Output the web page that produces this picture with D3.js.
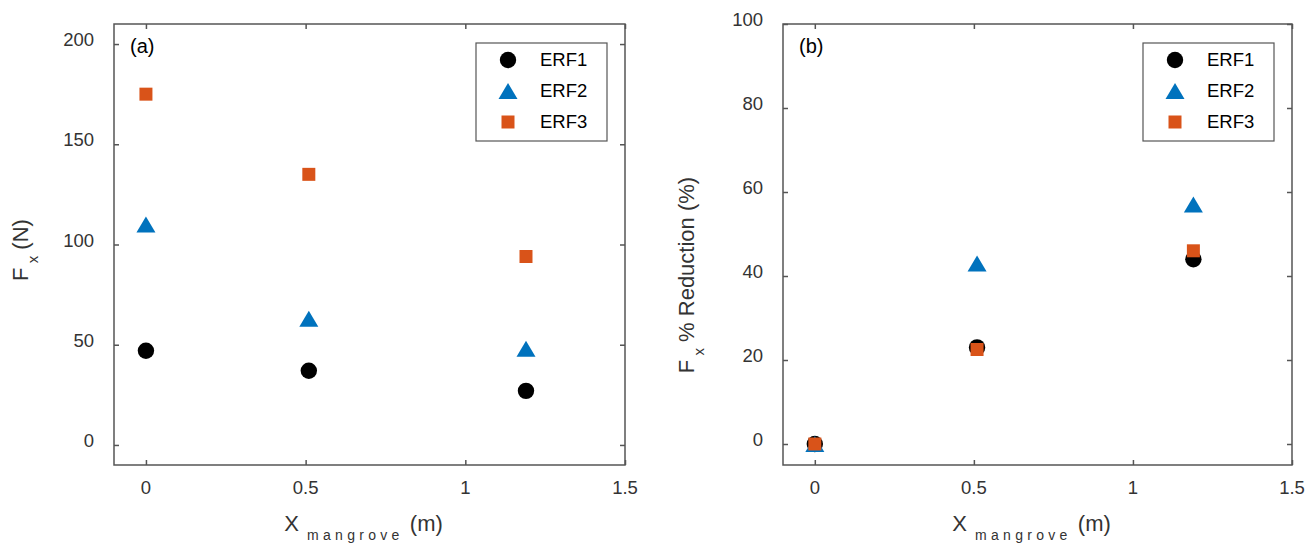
<!DOCTYPE html>
<html>
<head>
<meta charset="utf-8">
<script src="https://cdn.jsdelivr.net/npm/d3@7"></script>
<style>
  body { margin: 0; background: #fff; }
  text { font-family: "Liberation Sans", Arial, Helvetica, sans-serif; fill: #333; }
</style>
</head>
<body>
<svg id="chart" width="1312" height="547"></svg>
<script>
// data
const xMangrove = [0, 0.51, 1.19];
const seriesNames = ["ERF1", "ERF2", "ERF3"];
const forceERF1 = [47, 37, 27];
const forceERF2 = [110, 63, 48];
const forceERF3 = [175, 135, 94];
const reductionERF1 = [0, 23, 44];
const reductionERF2 = [0, 43, 57];
const reductionERF3 = [0, 22.5, 46];
const xTicks = [0, 0.5, 1, 1.5];
const forceTicks = [0, 50, 100, 150, 200];
const reductionTicks = [0, 20, 40, 60, 80, 100];

const COLORS = ["#000000", "#0072BD", "#D95319"];
const SHAPES = ["circle", "triangle", "square"];
const AXIS_COLOR = "#555";
const TICK_LEN = 5;

function markerPath(shape) {
    if (shape === "circle") return d3.symbol(d3.symbolCircle, Math.PI * 8.2 * 8.2)();
    if (shape === "square") return "M-6.5,-6.5H6.5V6.5H-6.5Z";
    // triangle centred on its bounding box
    return "M0,-8L9.5,8H-9.5Z";
}

function drawPanel(svg, opts) {
    const x = d3.scaleLinear().domain([-0.1, 1.5]).range([opts.left, opts.right]);
    const y = d3.scaleLinear().domain(opts.yDomain).range([465, 24]);
    const g = svg.append("g");

    // frame
    g.append("rect")
        .attr("x", opts.left).attr("y", 24)
        .attr("width", opts.right - opts.left).attr("height", 441)
        .attr("fill", "none").attr("stroke", AXIS_COLOR).attr("stroke-width", 1.5);

    // inward ticks on all four sides
    const fmt = d => String(d);
    g.append("g").attr("transform", `translate(0,465)`)
        .call(d3.axisBottom(x).tickValues(xTicks).tickSizeInner(-TICK_LEN).tickSizeOuter(0).tickFormat(""));
    g.append("g").attr("transform", `translate(0,24)`)
        .call(d3.axisTop(x).tickValues(xTicks).tickSizeInner(-TICK_LEN).tickSizeOuter(0).tickFormat(""));
    g.append("g").attr("transform", `translate(${opts.left},0)`)
        .call(d3.axisLeft(y).tickValues(opts.yTicks).tickSizeInner(-TICK_LEN).tickSizeOuter(0).tickFormat(""));
    g.append("g").attr("transform", `translate(${opts.right},0)`)
        .call(d3.axisRight(y).tickValues(opts.yTicks).tickSizeInner(-TICK_LEN).tickSizeOuter(0).tickFormat(""));
    g.selectAll(".domain").remove();
    g.selectAll(".tick line").attr("stroke", AXIS_COLOR).attr("stroke-width", 1.5);

    // tick labels
    g.append("g").selectAll("text")
        .data(xTicks).enter().append("text")
        .attr("x", d => x(d)).attr("y", 494)
        .attr("text-anchor", "middle").attr("font-size", 18.5)
        .text(fmt);
    g.append("g").selectAll("text")
        .data(opts.yTicks).enter().append("text")
        .attr("x", opts.left - 20).attr("y", d => y(d) + 2)
        .attr("text-anchor", "end").attr("font-size", 18.5)
        .text(fmt);

    // axis titles
    const xt = g.append("text")
        .attr("x", (opts.left + opts.right) / 2 - 6).attr("y", 531)
        .attr("text-anchor", "middle").attr("font-size", 22);
    xt.append("tspan").text("X");
    xt.append("tspan").attr("dy", 9).attr("font-size", 14).attr("letter-spacing", 4.3).text(" mangrove");
    xt.append("tspan").attr("dy", -9).text(" (m)");

    const yt = g.append("text")
        .attr("transform", `translate(${opts.yTitleX},${opts.yTitleY}) rotate(-90)`)
        .attr("text-anchor", "middle").attr("font-size", 22);
    yt.append("tspan").text("F");
    yt.append("tspan").attr("dy", 10).attr("font-size", 15).text(" x");
    yt.append("tspan").attr("dy", -10).text(opts.yTitleRest);

    // panel tag
    g.append("text")
        .attr("x", opts.left + 16).attr("y", 53)
        .attr("font-size", 20).style("fill", "#000")
        .text(opts.tag);

    // markers, drawn in series order so squares end on top
    opts.series.forEach((vals, i) => {
        g.append("g").selectAll("path")
            .data(vals).enter().append("path")
            .attr("d", markerPath(SHAPES[i]))
            .attr("transform", (d, j) => `translate(${x(xMangrove[j])},${y(d)})`)
            .attr("fill", COLORS[i]);
    });

    // legend
    const lx = opts.right - 149, ly = 43;
    const leg = g.append("g");
    leg.append("rect")
        .attr("x", lx).attr("y", ly).attr("width", 131).attr("height", 98)
        .attr("fill", "#fff").attr("stroke", AXIS_COLOR).attr("stroke-width", 1.2);
    seriesNames.forEach((name, i) => {
        const cy = ly + 17 + i * 31;
        leg.append("path")
            .attr("d", markerPath(SHAPES[i]))
            .attr("transform", `translate(${lx + 32},${cy})`)
            .attr("fill", COLORS[i]);
        leg.append("text")
            .attr("x", lx + 64).attr("y", cy + 6)
            .attr("font-size", 18.5).style("fill", "#000")
            .text(name);
    });
}

const svg = d3.select("#chart");

drawPanel(svg, {
    left: 114, right: 625,
    yDomain: [-10, 210], yTicks: forceTicks,
    series: [forceERF1, forceERF2, forceERF3],
    tag: "(a)",
    yTitleX: 28, yTitleY: 250, yTitleRest: " (N)"
});

drawPanel(svg, {
    left: 783, right: 1292,
    yDomain: [-5, 100], yTicks: reductionTicks,
    series: [reductionERF1, reductionERF2, reductionERF3],
    tag: "(b)",
    yTitleX: 694, yTitleY: 275, yTitleRest: " % Reduction (%)"
});
</script>
</body>
</html>
